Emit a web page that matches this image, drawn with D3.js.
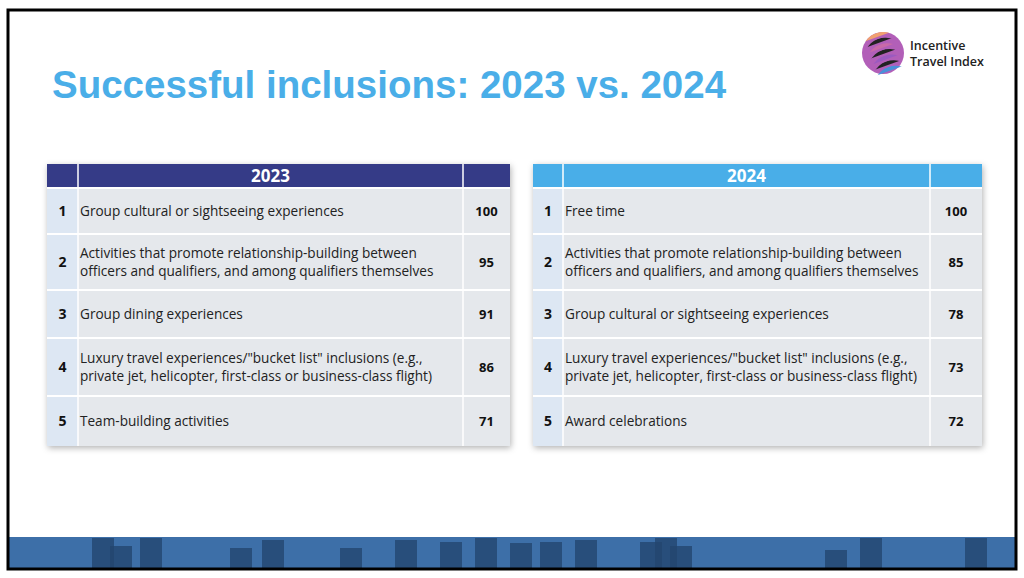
<!DOCTYPE html>
<html><head><meta charset="utf-8">
<script src="https://cdn.jsdelivr.net/npm/d3@7"></script>
<style>body{margin:0;background:#fff}svg{display:block;font-family:"Open Sans",Arial,sans-serif}</style>
</head><body>
<script>
var ranks = [1, 2, 3, 4, 5];
var items2023 = [
  ["Group cultural or sightseeing experiences"],
  ["Activities that promote relationship-building between", "officers and qualifiers, and among qualifiers themselves"],
  ["Group dining experiences"],
  ["Luxury travel experiences/\"bucket list\" inclusions (e.g.,", "private jet, helicopter, first-class or business-class flight)"],
  ["Team-building activities"]
];
var values2023 = [100, 95, 91, 86, 71];
var items2024 = [
  ["Free time"],
  ["Activities that promote relationship-building between", "officers and qualifiers, and among qualifiers themselves"],
  ["Group cultural or sightseeing experiences"],
  ["Luxury travel experiences/\"bucket list\" inclusions (e.g.,", "private jet, helicopter, first-class or business-class flight)"],
  ["Award celebrations"]
];
var values2024 = [100, 85, 78, 73, 72];
var rowEdges = [188, 234, 290, 338, 396, 446];
// skyline building heights (decorative)
var skyline = [[92,30],[110,22],[140,30],[230,20],[262,28],[340,20],[395,28],[440,26],[475,30],[510,25],[540,26],[575,28],[640,26],[655,30],[670,22],[825,18],[860,30],[965,30]];

var w = 1024, h = 578;
var svg = d3.select("body").append("svg").attr("width", w).attr("height", h);
var defs = svg.append("defs");
var f = defs.append("filter").attr("id", "sh").attr("x", "-5%").attr("y", "-5%").attr("width", "115%").attr("height", "120%");
f.append("feDropShadow").attr("dx", 1).attr("dy", 2).attr("stdDeviation", 3).attr("flood-color", "#000").attr("flood-opacity", 0.3);

// bottom strip
svg.append("rect").attr("x", 8).attr("y", 537).attr("width", 1008).attr("height", 31).attr("fill", "#3d6fa8");
svg.selectAll("rect.bld").data(skyline).enter().append("rect").attr("class", "bld")
  .attr("x", function(d){return d[0];}).attr("y", function(d){return 568 - d[1];})
  .attr("width", 22).attr("height", function(d){return d[1];}).attr("fill", "#23466f").attr("opacity", 0.8);
// frame
svg.append("rect").attr("x", 8).attr("y", 10).attr("width", 1008).attr("height", 559)
  .attr("fill", "none").attr("stroke", "#000").attr("stroke-width", 3);

svg.append("text").attr("x", 52).attr("y", 98).attr("font-size", 38.5).attr("font-weight", "bold")
  .attr("fill", "#4aaee8").attr("font-family", "Arial, 'Liberation Sans', sans-serif")
  .text("Successful inclusions: 2023 vs. 2024");

// logo
var lg = svg.append("g").attr("transform", "translate(883,53)");
lg.append("circle").attr("r", 21).attr("fill", "#b25fb8");
var stripes = ["#f0a070", "#222", "#c86aa8", "#222", "#9b5ac0", "#222", "#4a90d8"];
lg.selectAll("rect").data(stripes).enter().append("rect")
  .attr("x", -21).attr("y", function(d, i){return -21 + i * 6;}).attr("width", 42).attr("height", 4)
  .attr("fill", function(d){return d;}).attr("clip-path", "circle(21px at 21px 21px)")
  .attr("transform", "rotate(-20)");
svg.append("text").attr("x", 910).attr("y", 50).attr("font-size", 12.5).attr("font-weight", 600).attr("fill", "#222").text("Incentive");
svg.append("text").attr("x", 910).attr("y", 66).attr("font-size", 12.5).attr("font-weight", 600).attr("fill", "#222").text("Travel Index");

function table(x0, x1, x2, x3, year, color, items, vals) {
  var g = svg.append("g").attr("filter", "url(#sh)");
  g.append("rect").attr("x", x0).attr("y", 164).attr("width", x3 - x0).attr("height", 24).attr("fill", color);
  ranks.forEach(function(r, i) {
    var top = rowEdges[i], bot = rowEdges[i + 1];
    g.append("rect").attr("x", x0).attr("y", top).attr("width", x1 - x0).attr("height", bot - top).attr("fill", "#dde7f3");
    g.append("rect").attr("x", x1).attr("y", top).attr("width", x3 - x1).attr("height", bot - top).attr("fill", "#e5e8ec");
  });
  var t = svg.append("g");
  t.selectAll("line.v").data([x1, x2]).enter().append("line")
    .attr("x1", function(d){return d;}).attr("x2", function(d){return d;}).attr("y1", 164).attr("y2", 446)
    .attr("stroke", "#fff").attr("stroke-width", 1.5);
  t.selectAll("line.h").data(rowEdges.slice(0, 5)).enter().append("line")
    .attr("x1", x0).attr("x2", x3).attr("y1", function(d){return d;}).attr("y2", function(d){return d;})
    .attr("stroke", "#fff").attr("stroke-width", 2);
  t.append("text").attr("x", (x1 + x2) / 2).attr("y", 182).attr("text-anchor", "middle")
    .attr("font-size", 17).attr("font-weight", "bold").attr("fill", "#fff").text(year);
  ranks.forEach(function(r, i) {
    var cy = (rowEdges[i] + rowEdges[i + 1]) / 2;
    t.append("text").attr("x", (x0 + x1) / 2).attr("y", cy + 5).attr("text-anchor", "middle")
      .attr("font-size", 14).attr("font-weight", "bold").attr("fill", "#111").text(r);
    t.append("text").attr("x", (x2 + x3) / 2).attr("y", cy + 5).attr("text-anchor", "middle")
      .attr("font-size", 13).attr("font-weight", "bold").attr("fill", "#111").text(vals[i]);
    var lines = items[i];
    lines.forEach(function(l, j) {
      t.append("text").attr("x", x1 + 2).attr("y", cy + 5 + (j - (lines.length - 1) / 2) * 18)
        .attr("font-size", 13.6).attr("fill", "#222").text(l);
    });
  });
}
table(47, 78, 463, 510, "2023", "#353a87", items2023, values2023);
table(533, 563, 930, 982, "2024", "#4aaee8", items2024, values2024);
</script>
</body></html>
